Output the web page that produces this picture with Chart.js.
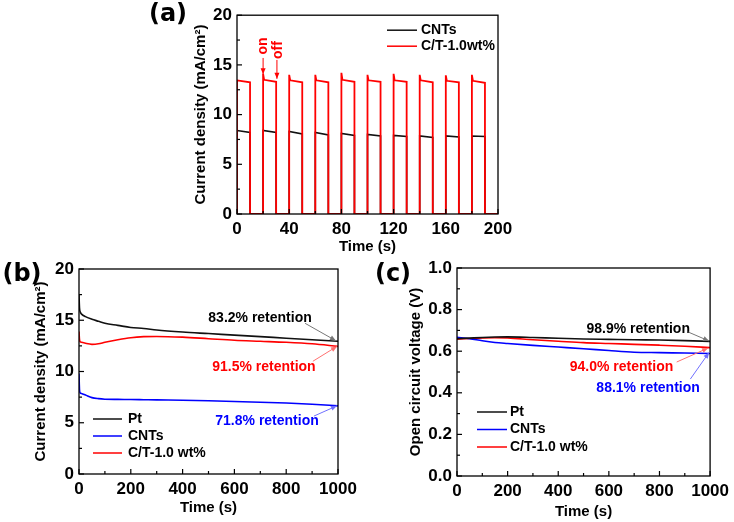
<!DOCTYPE html>
<html>
<head>
<meta charset="utf-8">
<script src="https://cdn.jsdelivr.net/npm/chart.js@4.4.1/dist/chart.umd.min.js"></script>
<style>
  body { margin: 0; background: #fff; width: 734px; height: 522px; position: relative; overflow: hidden; }
  canvas { position: absolute; }
</style>
</head>
<body>
<canvas id="chartA" width="380" height="262" style="left:140px;top:0px"></canvas>
<canvas id="chartB" width="370" height="282" style="left:0px;top:240px"></canvas>
<canvas id="chartC" width="364" height="282" style="left:370px;top:240px"></canvas>
<script>
// ---- (a) on/off cycles, read per pulse ----
const aCycleStart = [0, 20, 40, 60, 80, 100, 120, 140, 160, 180];
const aOnDuration = 10;
const aCntsFirst = [8.4, 8.4, 8.3, 8.2, 8.1, 8.0, 7.9, 7.85, 7.85, 7.85];
const aCntsLast  = [8.2, 8.2, 8.05, 7.95, 7.9, 7.85, 7.8, 7.7, 7.75, 7.8];
const aCtPeak    = [13.5, 14.1, 14.0, 14.0, 14.2, 14.0, 14.1, 14.0, 13.95, 14.0];
const aCtFirst   = [13.45, 13.5, 13.45, 13.45, 13.5, 13.45, 13.45, 13.45, 13.4, 13.4];
const aCtLast    = [13.25, 13.3, 13.25, 13.25, 13.3, 13.3, 13.3, 13.25, 13.25, 13.2];

// ---- (b) current density stability ----
const bTime = [0, 2, 5, 10, 25, 50, 75, 100, 150, 200, 250, 300, 400, 500, 600, 700, 800, 900, 1000];
const bPt   = [17.5, 16.2, 15.8, 15.6, 15.35, 15.1, 14.9, 14.7, 14.5, 14.3, 14.2, 14.05, 13.85, 13.7, 13.55, 13.4, 13.25, 13.1, 12.95];
const bCnts = [9.8, 8.2, 7.9, 7.85, 7.7, 7.45, 7.35, 7.3, 7.28, 7.27, 7.25, 7.23, 7.2, 7.15, 7.08, 7.0, 6.92, 6.8, 6.65];
const bCt   = [13.9, 13.1, 12.9, 12.85, 12.75, 12.65, 12.7, 12.85, 13.1, 13.3, 13.4, 13.42, 13.35, 13.2, 13.05, 12.95, 12.85, 12.7, 12.45];

// ---- (c) open circuit voltage stability ----
const cTime = [0, 50, 100, 150, 200, 300, 400, 500, 600, 700, 800, 900, 1000];
const cPt   = [0.660, 0.663, 0.666, 0.668, 0.669, 0.666, 0.662, 0.659, 0.657, 0.655, 0.654, 0.651, 0.647];
const cCnts = [0.667, 0.660, 0.650, 0.642, 0.637, 0.628, 0.620, 0.612, 0.603, 0.595, 0.593, 0.591, 0.589];
const cCt   = [0.658, 0.661, 0.664, 0.665, 0.664, 0.655, 0.648, 0.641, 0.637, 0.633, 0.629, 0.624, 0.617];

const aLabels = ['CNTs', 'C/T-1.0wt%'];
const bcLabels = ['Pt', 'CNTs', 'C/T-1.0 wt%'];

const BLACK = '#111111', RED = '#ff0000', BLUE = '#0000ff';

Chart.defaults.font.family = '"Liberation Sans", Arial, sans-serif';
Chart.defaults.font.weight = 'bold';
Chart.defaults.color = '#000';

function pulseTrain(first, last, peak) {
  const pts = [];
  aCycleStart.forEach((s, i) => {
    pts.push({x: s, y: 0});
    if (peak && peak[i] > first[i] + 0.1) {
      pts.push({x: s, y: peak[i]});
      pts.push({x: s + 0.8, y: first[i]});
    } else {
      pts.push({x: s, y: first[i]});
    }
    pts.push({x: s + aOnDuration, y: last[i]});
    pts.push({x: s + aOnDuration, y: 0});
  });
  pts.push({x: 200, y: 0});
  return pts;
}

function zipXY(xs, ys) {
  return xs.map((x, i) => ({x: x, y: ys[i]}));
}

// frame, inward ticks, legend, notes and panel letter
const framePlugin = {
  id: 'frame',
  afterDatasetsDraw(chart, args, opts) {
    const {ctx, chartArea: a, scales: {x, y}} = chart;
    ctx.save();
    ctx.strokeStyle = '#000';
    ctx.lineWidth = 1.3;
    ctx.strokeRect(a.left, a.top, a.right - a.left, a.bottom - a.top);

    ctx.lineWidth = 1.2;
    const isMajor = (v, step) => Math.abs(v / step - Math.round(v / step)) < 1e-6;
    for (let v = x.min; v <= x.max + 1e-9; v += opts.xMinor) {
      const px = x.getPixelForValue(v);
      const len = isMajor(v, opts.xMajor) ? 5 : 3;
      ctx.beginPath(); ctx.moveTo(px, a.bottom); ctx.lineTo(px, a.bottom - len); ctx.stroke();
    }
    for (let v = y.min; v <= y.max + 1e-9; v += opts.yMinor) {
      const py = y.getPixelForValue(v);
      const len = isMajor(v, opts.yMajor) ? 5 : 3;
      ctx.beginPath(); ctx.moveTo(a.left, py); ctx.lineTo(a.left + len, py); ctx.stroke();
    }

    // legend
    const lg = opts.legend;
    ctx.font = 'bold 14px "Liberation Sans", Arial, sans-serif';
    ctx.textBaseline = 'middle';
    ctx.textAlign = 'left';
    chart.data.datasets.forEach((ds, i) => {
      const ly = a.top + lg.y0 + i * lg.dy;
      ctx.strokeStyle = ds.borderColor;
      ctx.lineWidth = 1.5;
      ctx.beginPath(); ctx.moveTo(a.left + lg.x0, ly); ctx.lineTo(a.left + lg.x1, ly); ctx.stroke();
      ctx.fillStyle = '#000';
      ctx.fillText(ds.label, a.left + lg.tx, ly);
    });

    // notes with arrows
    (opts.notes || []).forEach(n => {
      if (n.from) {
        const fx = x.getPixelForValue(n.from[0]), fy = y.getPixelForValue(n.from[1]);
        const tx = x.getPixelForValue(n.to[0]), ty = y.getPixelForValue(n.to[1]);
        ctx.strokeStyle = n.arrow;
        ctx.fillStyle = n.arrow;
        ctx.lineWidth = 1;
        ctx.beginPath(); ctx.moveTo(fx, fy); ctx.lineTo(tx, ty); ctx.stroke();
        const ang = Math.atan2(ty - fy, tx - fx);
        ctx.beginPath();
        ctx.moveTo(tx, ty);
        ctx.lineTo(tx - 6 * Math.cos(ang) + 2.5 * Math.sin(ang), ty - 6 * Math.sin(ang) - 2.5 * Math.cos(ang));
        ctx.lineTo(tx - 6 * Math.cos(ang) - 2.5 * Math.sin(ang), ty - 6 * Math.sin(ang) + 2.5 * Math.cos(ang));
        ctx.closePath(); ctx.fill();
      }
      if (n.text) {
        const px = x.getPixelForValue(n.x), py = y.getPixelForValue(n.y);
        ctx.save();
        ctx.translate(px, py);
        if (n.rotate) ctx.rotate(-Math.PI / 2);
        ctx.font = 'bold 14px "Liberation Sans", Arial, sans-serif';
        ctx.fillStyle = n.color;
        ctx.textAlign = 'center';
        ctx.textBaseline = 'middle';
        ctx.fillText(n.text, 0, 0);
        ctx.restore();
      }
    });

    // panel letter
    if (opts.letter) {
      ctx.font = 'bold 24px "DejaVu Sans", sans-serif';
      ctx.fillStyle = '#000';
      ctx.textAlign = 'center';
      ctx.textBaseline = 'middle';
      ctx.fillText(opts.letter.text, opts.letter.x, opts.letter.y);
    }
    ctx.restore();
  }
};

function axes(cfg) {
  return {
    x: {
      type: 'linear', min: cfg.xmin, max: cfg.xmax,
      grid: {display: false, drawTicks: false},
      border: {display: false},
      ticks: {stepSize: cfg.xstep, padding: 5, font: {size: 17, weight: 'bold'}, maxRotation: 0,
        callback: v => String(v)},
      title: {display: true, text: 'Time (s)', font: {size: 15, weight: 'bold'}, padding: {top: 0, bottom: cfg.xTitlePad}},
      afterFit(s) { s.height = cfg.xHeight; }
    },
    y: {
      type: 'linear', min: cfg.ymin, max: cfg.ymax,
      grid: {display: false, drawTicks: false},
      border: {display: false},
      ticks: {stepSize: cfg.ystep, padding: 5, font: {size: 17, weight: 'bold'},
        callback: cfg.yfmt || (v => String(v))},
      title: {display: true, text: cfg.ytitle, font: {size: 15, weight: 'bold'}, padding: {top: cfg.yTitlePad, bottom: 0}},
      afterFit(s) { s.width = cfg.yWidth; }
    }
  };
}

const lineDefaults = {pointRadius: 0, borderWidth: 1.6, fill: false};

// (a)
new Chart(document.getElementById('chartA'), {
  type: 'line',
  data: {
    datasets: [
      Object.assign({label: aLabels[0], data: pulseTrain(aCntsFirst, aCntsLast, null), borderColor: BLACK, order: 1, tension: 0}, lineDefaults),
      Object.assign({label: aLabels[1], data: pulseTrain(aCtFirst, aCtLast, aCtPeak), borderColor: RED, order: 0, tension: 0, borderWidth: 1.8}, {pointRadius: 0, fill: false})
    ]
  },
  options: {
    responsive: false, animation: false, parsing: true,
    layout: {padding: {left: 0, top: 12, right: 22, bottom: 0}},
    plugins: {
      legend: {display: false}, tooltip: {enabled: false},
      frame: {
        xMajor: 40, xMinor: 20, yMajor: 5, yMinor: 2.5,
        legend: {x0: 150, x1: 180, tx: 184, y0: 15, dy: 16},
        notes: [
          {text: 'on', color: RED, x: 20, y: 16.9, rotate: true},
          {text: 'off', color: RED, x: 31.2, y: 16.5, rotate: true},
          {from: [20, 15.7], to: [20, 14.05], arrow: RED},
          {from: [30.6, 15.5], to: [30.6, 13.6], arrow: RED}
        ],
        letter: {text: '(a)', x: 28, y: 15}
      }
    },
    scales: axes({xmin: 0, xmax: 200, xstep: 40, ymin: 0, ymax: 20, ystep: 5,
      ytitle: 'Current density (mA/cm\u00B2)', xHeight: 48, yWidth: 97, xTitlePad: 6.6, yTitlePad: 51.6})
  },
  plugins: [framePlugin]
});

// (b)
new Chart(document.getElementById('chartB'), {
  type: 'line',
  data: {
    datasets: [
      Object.assign({label: bcLabels[0], data: zipXY(bTime, bPt), borderColor: BLACK, cubicInterpolationMode: 'monotone'}, lineDefaults),
      Object.assign({label: bcLabels[1], data: zipXY(bTime, bCnts), borderColor: BLUE, cubicInterpolationMode: 'monotone'}, lineDefaults),
      Object.assign({label: bcLabels[2], data: zipXY(bTime, bCt), borderColor: RED, cubicInterpolationMode: 'monotone'}, lineDefaults)
    ]
  },
  options: {
    responsive: false, animation: false,
    layout: {padding: {left: 0, top: 29, right: 32, bottom: 0}},
    plugins: {
      legend: {display: false}, tooltip: {enabled: false},
      frame: {
        xMajor: 200, xMinor: 100, yMajor: 5, yMinor: 2.5,
        legend: {x0: 14, x1: 43, tx: 49, y0: 150, dy: 17},
        notes: [
          {text: '83.2% retention', color: '#000', x: 699, y: 15.2},
          {from: [873, 14.7], to: [992, 13.0], arrow: '#777'},
          {text: '91.5% retention', color: RED, x: 714, y: 10.4},
          {from: [903, 11.0], to: [996, 12.45], arrow: '#ff7070'},
          {text: '71.8% retention', color: BLUE, x: 726, y: 5.2},
          {from: [907, 5.65], to: [996, 6.65], arrow: '#7070ff'}
        ],
        letter: {text: '(b)', x: 22, y: 35}
      }
    },
    scales: axes({xmin: 0, xmax: 1000, xstep: 200, ymin: 0, ymax: 20, ystep: 5,
      ytitle: 'Current density (mA/cm\u00B2)', xHeight: 48, yWidth: 79, xTitlePad: 5.6, yTitlePad: 31.6})
  },
  plugins: [framePlugin]
});

// (c)
new Chart(document.getElementById('chartC'), {
  type: 'line',
  data: {
    datasets: [
      Object.assign({label: bcLabels[0], data: zipXY(cTime, cPt), borderColor: BLACK, cubicInterpolationMode: 'monotone'}, lineDefaults),
      Object.assign({label: bcLabels[1], data: zipXY(cTime, cCnts), borderColor: BLUE, cubicInterpolationMode: 'monotone'}, lineDefaults),
      Object.assign({label: bcLabels[2], data: zipXY(cTime, cCt), borderColor: RED, cubicInterpolationMode: 'monotone'}, lineDefaults)
    ]
  },
  options: {
    responsive: false, animation: false,
    layout: {padding: {left: 0, top: 28, right: 20, bottom: 0}},
    plugins: {
      legend: {display: false}, tooltip: {enabled: false},
      frame: {
        xMajor: 200, xMinor: 100, yMajor: 0.2, yMinor: 0.1,
        legend: {x0: 20, x1: 50, tx: 53, y0: 144, dy: 17.5},
        notes: [
          {text: '98.9% retention', color: '#000', x: 716, y: 0.707},
          {from: [914, 0.692], to: [996, 0.649], arrow: '#777'},
          {text: '94.0% retention', color: RED, x: 650, y: 0.524},
          {from: [868, 0.548], to: [992, 0.615], arrow: '#ff7070'},
          {text: '88.1% retention', color: BLUE, x: 755, y: 0.423},
          {from: [922, 0.466], to: [996, 0.594], arrow: '#7070ff'}
        ],
        letter: {text: '(c)', x: 23, y: 35}
      }
    },
    scales: axes({xmin: 0, xmax: 1000, xstep: 200, ymin: 0, ymax: 1.0, ystep: 0.2,
      yfmt: v => v.toFixed(1),
      ytitle: 'Open circuit voltage (V)', xHeight: 46, yWidth: 87, xTitlePad: 1.6, yTitlePad: 36.6})
  },
  plugins: [framePlugin]
});
</script>
</body>
</html>
